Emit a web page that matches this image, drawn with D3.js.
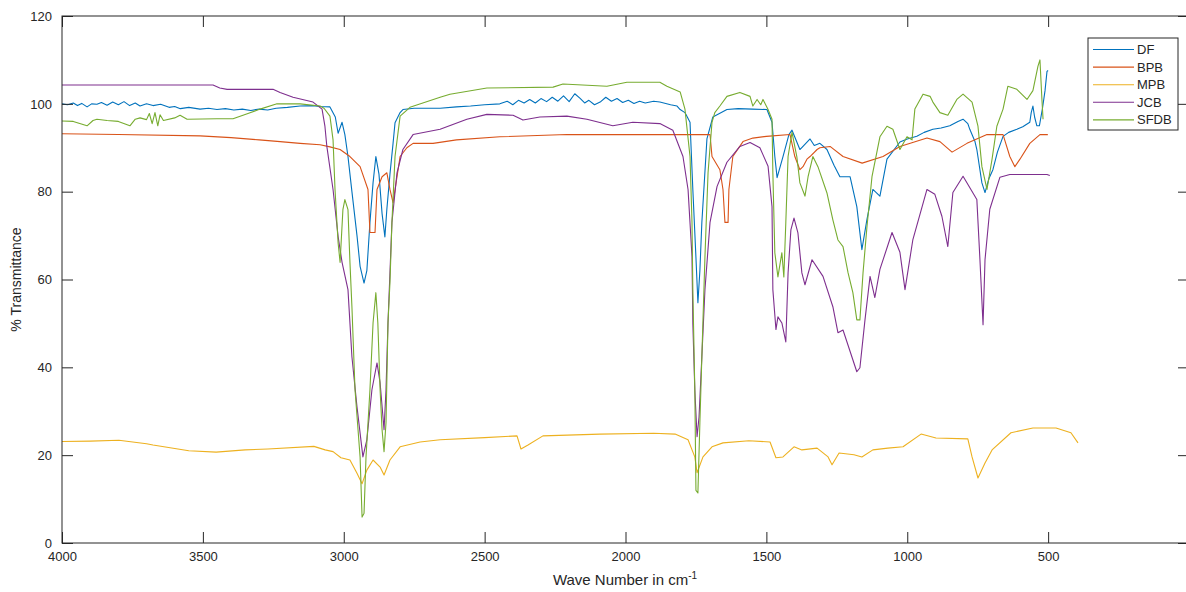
<!DOCTYPE html>
<html><head><meta charset="utf-8">
<script src="https://cdn.jsdelivr.net/npm/d3@7"></script>
<style>
html,body{margin:0;padding:0;background:#fff;overflow:hidden}
text{font-family:"Liberation Sans",Arial,Helvetica,sans-serif;fill:#262626}
</style></head><body>
<svg id="chart" width="1186" height="592"></svg>
<script>
// ---- data (wave number in cm^-1, % transmittance) ----
const seriesNames = ["DF","BPB","MPB","JCB","SFDB"];
const seriesColors = ["#0072BD","#D95319","#EDB120","#7E2F8E","#77AC30"];
const xTicks = [4000,3500,3000,2500,2000,1500,1000,500,0];
const xTickLabels = ["4000","3500","3000","2500","2000","1500","1000","500",""];
const yTicks = [0,20,40,60,80,100,120];

const DF = [[4000,100.0],[3980,99.8],[3960,100.2],[3945,99.6],[3930,100.1],[3911,99.3],[3895,100.0],[3876,99.9],[3860,100.3],[3840,99.7],[3820,100.4],[3800,99.8],[3780,100.5],[3760,99.6],[3740,100.2],[3723,99.5],[3700,100.0],[3677,99.6],[3650,99.9],[3620,99.2],[3600,99.4],[3580,98.9],[3550,99.2],[3510,98.8],[3480,99.0],[3450,98.7],[3420,98.9],[3390,98.6],[3360,98.8],[3330,98.5],[3300,98.8],[3270,98.6],[3240,99.0],[3200,99.2],[3155,99.5],[3110,99.6],[3084,99.4],[3049,99.3],[3030,97],[3020,93.3],[3006,95.8],[2996,93],[2985,88],[2971,80],[2953,70],[2942,63],[2928,59.2],[2918,62],[2907,73],[2896,82],[2886,88],[2875,84],[2864,75],[2854,69.7],[2847,76],[2836,84],[2825,91],[2818,95.7],[2800,98],[2790,98.7],[2750,99],[2658,99],[2600,99.3],[2550,99.5],[2500,99.8],[2446,100],[2420,100.6],[2400,99.8],[2380,100.8],[2360,100.2],[2340,101],[2320,100.2],[2300,101.2],[2280,100.5],[2260,101.5],[2240,100.6],[2220,101.8],[2200,100.5],[2180,102.3],[2162,101.3],[2145,100.2],[2130,100.8],[2110,99.8],[2090,100.4],[2070,101.5],[2050,100.6],[2030,101.2],[2010,100.3],[1990,100.8],[1970,100.1],[1950,100.6],[1930,100.2],[1900,100.6],[1878,100.4],[1840,99.8],[1817,99.5],[1806,98.7],[1789,98],[1771,95.8],[1761,80.5],[1750,65],[1743,54.7],[1736,62],[1729,73],[1711,92],[1690,97],[1640,98.7],[1600,98.9],[1550,98.8],[1498,98.7],[1480,95.8],[1470,88],[1462,83.2],[1441,88],[1420,93],[1409,94],[1381,89.6],[1360,91],[1345,92],[1330,90.5],[1310,91],[1285,89.6],[1260,86],[1239,83.4],[1203,83.4],[1179,76.6],[1161,66.8],[1143,73.7],[1122,80.5],[1097,79],[1072,87.4],[1026,91.3],[1000,92],[966,92.6],[940,93.5],[909,94.2],[880,94.5],[849,95],[820,96],[802,96.5],[785,95.5],[778,94.2],[760,91.5],[753,89.6],[735,82],[724,79.8],[710,83],[696,85],[680,89],[660,92.6],[640,93.5],[611,94.2],[590,94.8],[565,95.8],[560,98],[554,99.5],[548,97],[540,95],[531,95],[520,99],[511,103],[504,107.4],[500,107.6]];

const BPB = [[4000,93.2],[3800,93.0],[3510,92.7],[3400,92.3],[3300,91.8],[3226,91.4],[3155,91],[3084,90.7],[3049,90.2],[3013,89.6],[2978,88],[2942,85.7],[2914,80.5],[2907,70.7],[2889,70.7],[2882,80.5],[2864,83.4],[2847,84.3],[2836,80.5],[2825,77.5],[2800,88],[2776,90],[2754,91],[2683,91],[2600,91.8],[2446,92.5],[2208,93],[2000,93],[1800,93],[1700,93],[1693,88],[1665,85],[1654,80.5],[1647,73],[1636,73],[1633,80.5],[1619,88],[1583,91.4],[1548,92.2],[1500,92.6],[1416,93],[1399,88],[1381,85],[1370,85.7],[1356,87.4],[1345,88],[1320,89.6],[1310,90],[1274,90.3],[1228,88],[1160,86.5],[1086,88],[1026,90.3],[930,92.2],[884,91.4],[841,89],[788,91],[717,93],[660,93],[636,88],[618,85.7],[600,87.4],[565,91],[529,93],[501,93]];

const MPB = [[4000,23.1],[3900,23.2],[3798,23.4],[3700,22.6],[3677,22.3],[3550,21],[3453,20.7],[3350,21.2],[3269,21.4],[3106,22],[3066,21.2],[3038,20.8],[3010,19.4],[2978,18.9],[2953,15.9],[2935,13.5],[2918,16.6],[2896,18.9],[2871,17.3],[2857,15.5],[2836,18.9],[2800,21.9],[2729,23],[2658,23.5],[2500,24],[2385,24.4],[2371,21.4],[2346,22.3],[2293,24.4],[2091,24.8],[1900,25],[1824,24.8],[1778,23.5],[1754,19.6],[1746,16],[1725,19.6],[1693,21.9],[1654,22.8],[1562,23.3],[1487,23],[1466,19.4],[1441,19.6],[1402,21.9],[1374,21.2],[1320,21.6],[1281,19.6],[1267,17.8],[1242,20.5],[1189,20.1],[1161,19.6],[1122,21.2],[1069,21.6],[1015,21.9],[951,24.8],[898,23.9],[785,23.7],[770,19.6],[749,14.8],[724,18.2],[699,21.2],[632,25.1],[554,26.2],[472,26.2],[419,25.1],[394,22.8]];

const JCB = [[4000,104.3],[3700,104.3],[3464,104.3],[3440,103.6],[3414,103.3],[3251,103.3],[3226,102.6],[3180,101.5],[3109,100.4],[3077,98.8],[3067,95],[3060,90.3],[3038,80.5],[3020,69.8],[3006,63.9],[2985,57.7],[2971,42.4],[2953,31],[2932,19.6],[2918,23.5],[2900,34.9],[2882,41],[2871,36.5],[2857,25.8],[2850,34.9],[2843,50.1],[2829,73],[2811,84.3],[2790,89.6],[2754,93],[2658,94.2],[2563,96.5],[2492,97.6],[2399,97.4],[2364,96.3],[2304,97],[2208,97.2],[2137,96.5],[2045,95],[1974,95.8],[1878,95.5],[1832,94],[1796,88],[1778,80.5],[1764,65.2],[1761,50],[1754,34.9],[1746,24.2],[1739,28.7],[1729,42.4],[1718,57.7],[1700,73],[1675,81.2],[1640,86.7],[1594,90.3],[1558,91.2],[1523,90],[1494,85.8],[1480,76.6],[1477,57.7],[1466,48.6],[1459,51.5],[1445,50.1],[1431,45.8],[1423,61.5],[1413,71.3],[1402,74],[1388,70.6],[1374,61.5],[1363,58.8],[1338,64.5],[1299,60.7],[1264,53.8],[1246,47.9],[1228,48.5],[1179,39],[1168,39.9],[1150,50.8],[1132,60.7],[1115,55.9],[1097,62.3],[1054,70.7],[1026,66.2],[1008,57.7],[980,69.1],[930,80.5],[902,79.4],[877,74.4],[856,67.5],[838,79.8],[802,83.5],[753,78.2],[742,64.5],[731,49.7],[724,64.5],[707,76],[671,83.3],[636,83.9],[504,83.9],[494,83.7]];

const SFDB = [[4000,96.1],[3960,96.0],[3911,95],[3890,96.2],[3876,96.5],[3840,96.2],[3800,96],[3759,95],[3740,96.5],[3723,96.8],[3700,96.4],[3690,97.8],[3680,95.5],[3670,98],[3660,95],[3652,97.5],[3640,96.2],[3600,96.8],[3581,97.4],[3556,96.5],[3450,96.6],[3393,96.6],[3340,97.8],[3297,98.8],[3237,100],[3155,100],[3084,99.5],[3070,99],[3049,97.2],[3038,91.8],[3031,80.5],[3020,68.3],[3013,63.9],[3003,75.9],[2996,78.2],[2985,75.9],[2978,63.9],[2971,53.8],[2960,34.9],[2942,19.6],[2935,5.9],[2928,6.8],[2921,19.6],[2907,34.9],[2896,50.1],[2886,57],[2879,50.1],[2871,34.9],[2864,25.8],[2857,20.8],[2850,27.4],[2843,50.1],[2836,59.3],[2829,73],[2818,88],[2800,97.2],[2765,99.2],[2658,101.5],[2623,102.2],[2492,103.6],[2257,103.8],[2222,104.5],[2066,104],[1995,104.9],[1878,104.9],[1853,104],[1806,102.7],[1789,98.8],[1771,88],[1764,73],[1761,57.7],[1754,34.9],[1750,12],[1743,11.4],[1736,27.4],[1729,42.4],[1718,65.2],[1707,84.3],[1693,95.8],[1683,98],[1665,99.5],[1640,101.7],[1594,102.6],[1558,101.7],[1548,99.5],[1533,101],[1520,99.8],[1512,101],[1494,98.7],[1480,96.5],[1477,84.3],[1470,66.1],[1459,60.6],[1445,66.1],[1438,60.6],[1431,73],[1423,88],[1409,93.5],[1392,88],[1381,82],[1363,79],[1352,83.4],[1335,88],[1317,85.7],[1285,79.7],[1264,73.6],[1246,69],[1228,67.5],[1210,61.5],[1193,57],[1179,50.8],[1168,50.8],[1157,61.5],[1143,72],[1125,83.5],[1097,92.5],[1072,94.9],[1051,94.2],[1026,89.6],[1001,92.5],[983,91.8],[973,98.8],[944,102.2],[919,101.7],[909,100.4],[884,98],[856,97.4],[824,101],[802,102.2],[770,100.4],[749,94.9],[735,85.7],[717,80.5],[699,87.4],[682,94.9],[660,98.8],[643,104],[611,103.3],[575,101],[554,103],[536,108.6],[529,110],[522,101],[518,96.5]];

const seriesData = [DF, BPB, MPB, JCB, SFDB];

// ---- drawing ----
const svg = d3.select("#chart");
const L = 62, T = 16, R = 1189, B = 543;
const x = d3.scaleLinear().domain([4000, 0]).range([L, R]);
const y = d3.scaleLinear().domain([0, 120]).range([B, T]);
const axisColor = "#262626";

svg.append("rect").attr("width",1186).attr("height",592).attr("fill","#fff");

const line = d3.line().x(d => x(d[0])).y(d => y(d[1]));
const g = svg.append("g");
seriesData.forEach((s, i) => {
  g.append("path").datum(s).attr("d", line)
    .attr("fill","none").attr("stroke", seriesColors[i])
    .attr("stroke-width", 1.1).attr("stroke-linejoin","round");
});

function styleAxis(sel){
  sel.select(".domain").remove();
  sel.selectAll(".tick line").attr("stroke", axisColor).attr("stroke-width",1);
  sel.selectAll(".tick text").attr("fill", axisColor)
     .style("font-family","'Liberation Sans',Arial,sans-serif").style("font-size","13px");
}
svg.append("g").attr("transform",`translate(0,${B})`)
  .call(d3.axisBottom(x).tickValues(xTicks).tickFormat((d,i) => xTickLabels[i]).tickSizeInner(-11).tickSizeOuter(0).tickPadding(9))
  .call(styleAxis);
svg.append("g").attr("transform",`translate(0,${T})`)
  .call(d3.axisTop(x).tickValues(xTicks).tickFormat("").tickSizeInner(-11).tickSizeOuter(0))
  .call(styleAxis);
svg.append("g").attr("transform",`translate(${L},0)`)
  .call(d3.axisLeft(y).tickValues(yTicks).tickFormat(d3.format("d")).tickSizeInner(-11).tickSizeOuter(0).tickPadding(10))
  .call(styleAxis);
svg.append("g").attr("transform",`translate(${R},0)`)
  .call(d3.axisRight(y).tickValues(yTicks).tickFormat("").tickSizeInner(-11).tickSizeOuter(0))
  .call(styleAxis);

svg.append("rect").attr("x",L).attr("y",T).attr("width",R-L).attr("height",B-T)
  .attr("fill","none").attr("stroke",axisColor).attr("stroke-width",1);

// axis labels
const xl = svg.append("text").attr("x", 625).attr("y", 585)
  .attr("text-anchor","middle").style("font-size","15px");
xl.append("tspan").text("Wave Number in cm");
xl.append("tspan").attr("dy",-6).style("font-size","10px").text("-1");

svg.append("text").attr("transform",`translate(21,${(T+B)/2}) rotate(-90)`)
  .attr("text-anchor","middle").style("font-size","14px").text("% Transmittance");

// legend
const lg = svg.append("g");
lg.append("rect").attr("x",1088).attr("y",38).attr("width",90).attr("height",92)
  .attr("fill","#fff").attr("stroke",axisColor).attr("stroke-width",1);
seriesNames.forEach((n, i) => {
  const yy = 49.5 + i*17.6;
  lg.append("line").attr("x1",1093).attr("x2",1134).attr("y1",yy).attr("y2",yy)
    .attr("stroke",seriesColors[i]).attr("stroke-width",1.1);
  lg.append("text").attr("x",1137).attr("y",yy+4.5).style("font-size","13px").text(n);
});
</script>
</body></html>
